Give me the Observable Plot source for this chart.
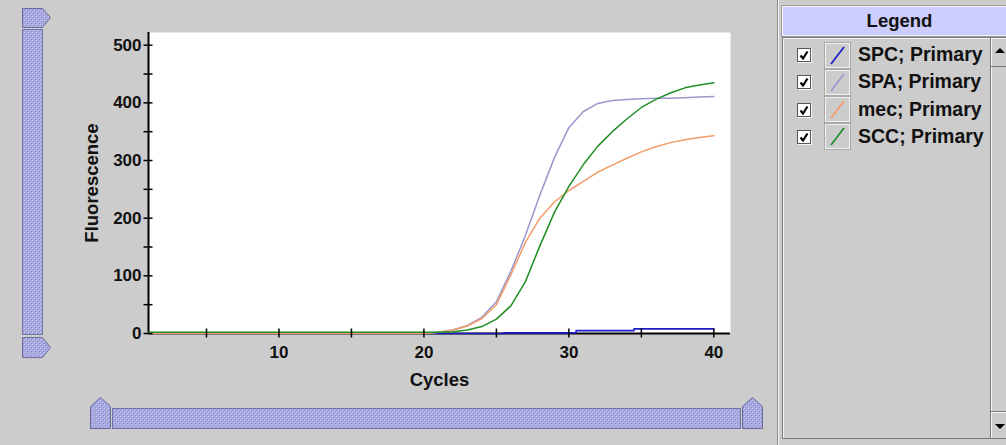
<!DOCTYPE html>
<html>
<head>
<meta charset="utf-8">
<script src="https://cdn.jsdelivr.net/npm/d3@7"></script>
<script src="https://cdn.jsdelivr.net/npm/@observablehq/plot@0.6"></script>
<style>
html, body { margin: 0; padding: 0; background: #cccccc; }
#wrap { position: relative; width: 1006px; height: 445px; overflow: hidden; background: #cccccc;
  font-family: "Liberation Sans", Arial, sans-serif; }
#chart { position: absolute; left: 0; top: 0; }
#deco { position: absolute; left: 0; top: 0; pointer-events: none; }
#panel { position: absolute; left: 777px; top: 0; width: 229px; height: 445px;
  border-left: 1px solid #8e8e8e; box-shadow: inset 1px 0 0 #f4f4f4; box-sizing: border-box; }
#hdr { position: absolute; left: 782px; top: 6px; width: 234px; height: 30px; box-sizing: border-box;
  background: #ccccff; border-top: 1px solid #f8f8ff; border-left: 1px solid #f8f8ff; border-bottom: 1px solid #f0f0ff;
  outline: 1px solid #9a9a9a; text-align: center; font-weight: bold; font-size: 18.5px; line-height: 28px; color: #111; }
#list { position: absolute; left: 782px; top: 37px; width: 240px; height: 402px; box-sizing: border-box;
  border: 1px solid #7a7a7a; box-shadow: inset 1px 1px 0 #f4f4f4; }
#sb { position: absolute; left: 990px; top: 38px; width: 20px; height: 400px; box-sizing: border-box;
  border-left: 1px solid #7a7a7a; box-shadow: inset 1px 0 0 #f4f4f4; }
.sbbtn { position: absolute; left: 991px; width: 18px; box-sizing: border-box; }
.cb { position: absolute; left: 797px; width: 14px; height: 14px; box-sizing: border-box; background: #fff;
  border: 1px solid #555; box-shadow: 1px 1px 0 #f6f6f6; }
.sw { position: absolute; left: 825px; width: 25px; height: 25px; box-sizing: border-box;
  border: 1px solid #f2f2f2; outline: 1px solid #a9a9a9; }
.lbl { position: absolute; left: 858px; font-weight: bold; font-size: 19.5px; color: #111; white-space: nowrap; line-height: 20px; }
</style>
</head>
<body>
<div id="wrap">
  <div id="chart"></div>
  <svg id="deco" width="1006" height="445">
    <defs>
      <pattern id="bumps" width="4" height="4" patternUnits="userSpaceOnUse">
        <rect width="4" height="4" fill="#a9a9e2"/>
        <rect x="0" y="0" width="1" height="1" fill="#c9c9f6"/>
        <rect x="1" y="1" width="1" height="1" fill="#8d8dc6"/>
        <rect x="2" y="2" width="1" height="1" fill="#c9c9f6"/>
        <rect x="3" y="3" width="1" height="1" fill="#8d8dc6"/>
      </pattern>
    </defs>
    <!-- left vertical slider -->
    <polygon points="22.5,8.5 42.5,8.5 50.5,17.5 42.5,27.5 22.5,27.5" fill="url(#bumps)" stroke="#6a6a9c" stroke-width="1"/>
    <rect x="22.5" y="29.5" width="20" height="305" fill="url(#bumps)" stroke="#7474a8" stroke-width="1"/>
    <polygon points="22.5,337.5 42.5,337.5 50.5,347.5 42.5,357.5 22.5,357.5" fill="url(#bumps)" stroke="#6a6a9c" stroke-width="1"/>
    <!-- bottom horizontal slider -->
    <polygon points="90.5,428.5 90.5,406.5 100.5,397.5 110.5,406.5 110.5,428.5" fill="url(#bumps)" stroke="#6a6a9c" stroke-width="1"/>
    <rect x="112.5" y="408.5" width="628" height="20" fill="url(#bumps)" stroke="#7474a8" stroke-width="1"/>
    <polygon points="742.5,428.5 742.5,406.5 752.5,397.5 762.5,406.5 762.5,428.5" fill="url(#bumps)" stroke="#6a6a9c" stroke-width="1"/>
  </svg>
  <div id="panel"></div>
  <div id="hdr">Legend</div>
  <div id="list"></div>
  <div id="sb"></div>
  <div class="sbbtn" style="top:38px;height:29px;border-bottom:1px solid #7a7a7a;">
    <svg width="18" height="28"><polygon points="4,15 14,15 9,10" fill="#000"/></svg>
  </div>
  <div class="sbbtn" style="top:411px;height:27px;border-top:1px solid #7a7a7a;box-shadow: inset 0 1px 0 #f4f4f4;">
    <svg width="18" height="26"><polygon points="4,12 14,12 9,17" fill="#000"/></svg>
  </div>
  <div id="legendRows"></div>
</div>
<script>
// ---- data ----
const cycles = [1,2,3,4,5,6,7,8,9,10,11,12,13,14,15,16,17,18,19,20,21,22,23,24,25,26,27,28,29,30,31,32,33,34,35,36,37,38,39,40];
const spcValues = [0,0,0,0,0,0,0,0,0,0,0,0,0,0,0,0,0,0,0,0,0,0,0,0,0,1,1,1,1,1,5,5,5,5,8,8,8,8,8,8];
const spaValues = [0,0,0,0,0,0,0,0,0,0,0,0,0,0,0,0,0,0,0,0,2,6,14,28,55,108,170,240,305,357,385,399,404,406,407,408,408,409,410,411];
const mecValues = [0,0,0,0,0,0,0,0,0,0,0,0,0,0,0,0,0,0,0,0,2,6,13,26,50,102,158,200,228,248,264,280,292,304,315,324,331,336,340,343];
const sccValues = [2,2,2,2,2,2,2,2,2,2,2,2,2,2,2,2,2,2,2,2,2,3,6,12,25,48,90,152,210,255,293,325,350,372,392,406,417,426,431,435];
const seriesNames = ["SPC; Primary", "SPA; Primary", "mec; Primary", "SCC; Primary"];
const seriesColors = ["#1c1cc8", "#9898cc", "#f29c68", "#1f8f24"];
const seriesValues = [spcValues, spaValues, mecValues, sccValues];
const yTickValues = [0,50,100,150,200,250,300,350,400,450,500];
const yTickLabels = [0,100,200,300,400,500];
const xTickValues = [5,10,15,20,25,30,35,40];
const xTickLabels = [10,20,30,40];
const xLabel = "Cycles";
const yLabel = "Fluorescence";

const FONT = "'Liberation Sans', Arial, sans-serif";
const data = seriesNames.flatMap((name, k) =>
  cycles.map((c, i) => ({cycle: c, value: seriesValues[k][i], series: name})));

const chart = Plot.plot({
  width: 1006, height: 445,
  marginLeft: 148, marginRight: 276, marginTop: 32, marginBottom: 112,
  style: {background: "transparent", fontFamily: FONT, fontWeight: "bold", color: "#111", overflow: "visible"},
  x: {domain: [1, 41.15], label: null},
  y: {domain: [0, 522], label: null},
  color: {domain: seriesNames, range: seriesColors},
  marks: [
    Plot.frame({fill: "white", stroke: "none"}),
    Plot.ruleY([0], {stroke: "#000", strokeWidth: 2}),
    Plot.ruleX([1], {stroke: "#000", strokeWidth: 2}),
    Plot.line(data.filter(d => d.series === seriesNames[0]), {x: "cycle", y: "value", stroke: "series", strokeWidth: 1.6, curve: "step"}),
    Plot.line(data.filter(d => d.series !== seriesNames[0]), {x: "cycle", y: "value", z: "series", stroke: "series", strokeWidth: 1.5}),
    Plot.axisY(yTickValues, {tickSize: 9, dx: 4.5, fill: "none", stroke: "#000", strokeWidth: 1.5, label: null}),
    Plot.axisY(yTickLabels, {tickSize: 0, tickPadding: 7, stroke: "none", fontSize: 17, label: null}),
    Plot.axisY([], {stroke: "none", label: yLabel, labelAnchor: "center", labelOffset: 64, labelArrow: "none", fontSize: 18.5}),
    Plot.axisX(xTickValues, {tickSize: 9, dy: -4.5, fill: "none", stroke: "#000", strokeWidth: 1.5, label: null}),
    Plot.axisX(xTickLabels, {tickSize: 0, tickPadding: 12, stroke: "none", fontSize: 17, label: null}),
    Plot.axisX([], {stroke: "none", label: xLabel, labelAnchor: "center", labelOffset: 52, labelArrow: "none", fontSize: 18.5})
  ]
});
document.getElementById("chart").appendChild(chart);

// ---- legend rows (HTML) ----
const rowCenters = [55, 82.3, 109.6, 136.9];
const rows = document.getElementById("legendRows");
seriesNames.forEach((name, i) => {
  const cy = rowCenters[i];
  const cb = document.createElement("div");
  cb.className = "cb";
  cb.style.top = (cy - 7) + "px";
  cb.innerHTML = '<svg width="12" height="12" style="position:absolute;left:0;top:0"><path d="M2.5 6.5 L5 9.5 L9.5 2.5" fill="none" stroke="#000" stroke-width="2.2"/></svg>';
  rows.appendChild(cb);
  const sw = document.createElement("div");
  sw.className = "sw";
  sw.style.top = (cy - 12.5) + "px";
  sw.innerHTML = `<svg width="23" height="23" style="position:absolute;left:0;top:0"><line x1="5" y1="20" x2="18" y2="3" stroke="${seriesColors[i]}" stroke-width="1.7"/></svg>`;
  rows.appendChild(sw);
  const lb = document.createElement("div");
  lb.className = "lbl";
  lb.style.top = (cy - 11) + "px";
  lb.textContent = name;
  rows.appendChild(lb);
});
</script>
</body>
</html>
